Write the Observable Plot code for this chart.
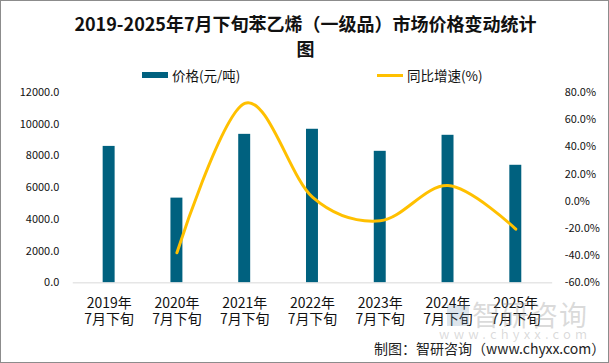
<!DOCTYPE html>
<html>
<head>
<meta charset="utf-8">
<script src="https://cdn.jsdelivr.net/npm/d3@7"></script>
<script src="https://cdn.jsdelivr.net/npm/@observablehq/plot@0.6"></script>
<style>
  html, body { margin: 0; padding: 0; background: #fff; }
  #frame { position: relative; width: 609px; height: 363px; box-sizing: border-box; border: 1px solid #8c8c8c; overflow: hidden; font-family: "Noto Sans CJK SC", "DejaVu Sans", sans-serif; }
  #title { position: absolute; top: 10px; left: 0; width: 609px; text-align: center; font-weight: bold; font-size: 18px; line-height: 25px; color: #111; }
  .legend { position: absolute; top: 64px; height: 20px; font-size: 13.5px; color: #111; display: flex; align-items: center; }
  .sw { display: inline-block; width: 26px; margin-right: 4px; }
  #chart { position: absolute; top: 80px; left: 0; }
  #caption { position: absolute; top: 337px; left: 373px; font-size: 14px; color: #222; white-space: nowrap; }
  #wm1 { position: absolute; top: 295px; left: 471px; font-size: 28px; line-height: 36px; color: rgba(150,150,150,0.35); letter-spacing: 1px; white-space: nowrap; }
  #wm2 { position: absolute; top: 324px; left: 438px; font-size: 13px; line-height: 18px; color: rgba(150,150,150,0.35); letter-spacing: 4.2px; white-space: nowrap; }
  #wmicon { position: absolute; top: 304px; left: 446px; width: 22px; height: 21px; background: rgba(120,150,180,0.25); }
</style>
</head>
<body>
<div id="frame">
  <div id="title">2019-2025年7月下旬苯乙烯（一级品）市场价格变动统计<br>图</div>
  <div class="legend" style="left:141px;"><span class="sw" style="height:6px;background:#00617F;"></span>价格(元/吨)</div>
  <div class="legend" style="left:376px;"><span class="sw" style="height:3px;background:#FFC000;"></span>同比增速(%)</div>
  <div id="chart"></div>
  <div id="wmicon"></div>
  <div id="wm1">智研咨询</div>
  <div id="wm2">www.chyxx.com</div>
  <div id="caption">制图：智研咨询（www.chyxx.com）</div>
</div>
<script>
const categories = ["2019年\n7月下旬", "2020年\n7月下旬", "2021年\n7月下旬", "2022年\n7月下旬", "2023年\n7月下旬", "2024年\n7月下旬", "2025年\n7月下旬"];
const prices = [8600, 5340, 9360, 9680, 8290, 9300, 7410];
const growth = [null, -37.9, 72.0, 3.0, -14.4, 11.5, -20.5];
const leftTicks = [0, 2000, 4000, 6000, 8000, 10000, 12000];
const rightTicks = [-60, -40, -20, 0, 20, 40, 60, 80];

// map right-axis percent onto left-axis domain
const gMin = -60, gMax = 80, pMax = 12000;
const toLeft = g => (g - gMin) / (gMax - gMin) * pMax;
const fromLeft = v => Math.round(v / pMax * (gMax - gMin) + gMin);

const barData = categories.map((c, i) => ({cat: c, price: prices[i]}));
const lineData = categories.map((c, i) => ({cat: c, g: growth[i]})).filter(d => d.g != null);

const chart = Plot.plot({
  width: 609,
  height: 252,
  marginTop: 11,
  marginBottom: 50,
  marginLeft: 72,
  marginRight: 56,
  style: {fontFamily: '"Noto Sans CJK SC", "DejaVu Sans", sans-serif', color: "#111", background: "transparent"},
  x: {domain: categories, paddingInner: 0.82, paddingOuter: 0.41, axis: null},
  y: {domain: [0, 12000], axis: null},
  marks: [
    Plot.barY(barData, {x: "cat", y: "price", fill: "#00617F"}),
    Plot.ruleY([0], {stroke: "#d9d9d9", strokeWidth: 1}),
    Plot.line(lineData, {x: "cat", y: d => toLeft(d.g), stroke: "#FFC000", strokeWidth: 3, curve: "cardinal"}),
    Plot.axisY({ticks: leftTicks, tickSize: 0, tickPadding: 14, fontSize: 11, tickFormat: d => d.toFixed(1), label: null}),
    Plot.axisY({anchor: "right", ticks: rightTicks.map(toLeft), tickSize: 0, tickPadding: 12, fontSize: 11, tickFormat: v => fromLeft(v).toFixed(1) + "%", label: null}),
    Plot.axisX({tickSize: 0, tickPadding: 13, fontSize: 14, lineHeight: 1.2, label: null})
  ]
});
document.getElementById("chart").appendChild(chart);
</script>
</body>
</html>
